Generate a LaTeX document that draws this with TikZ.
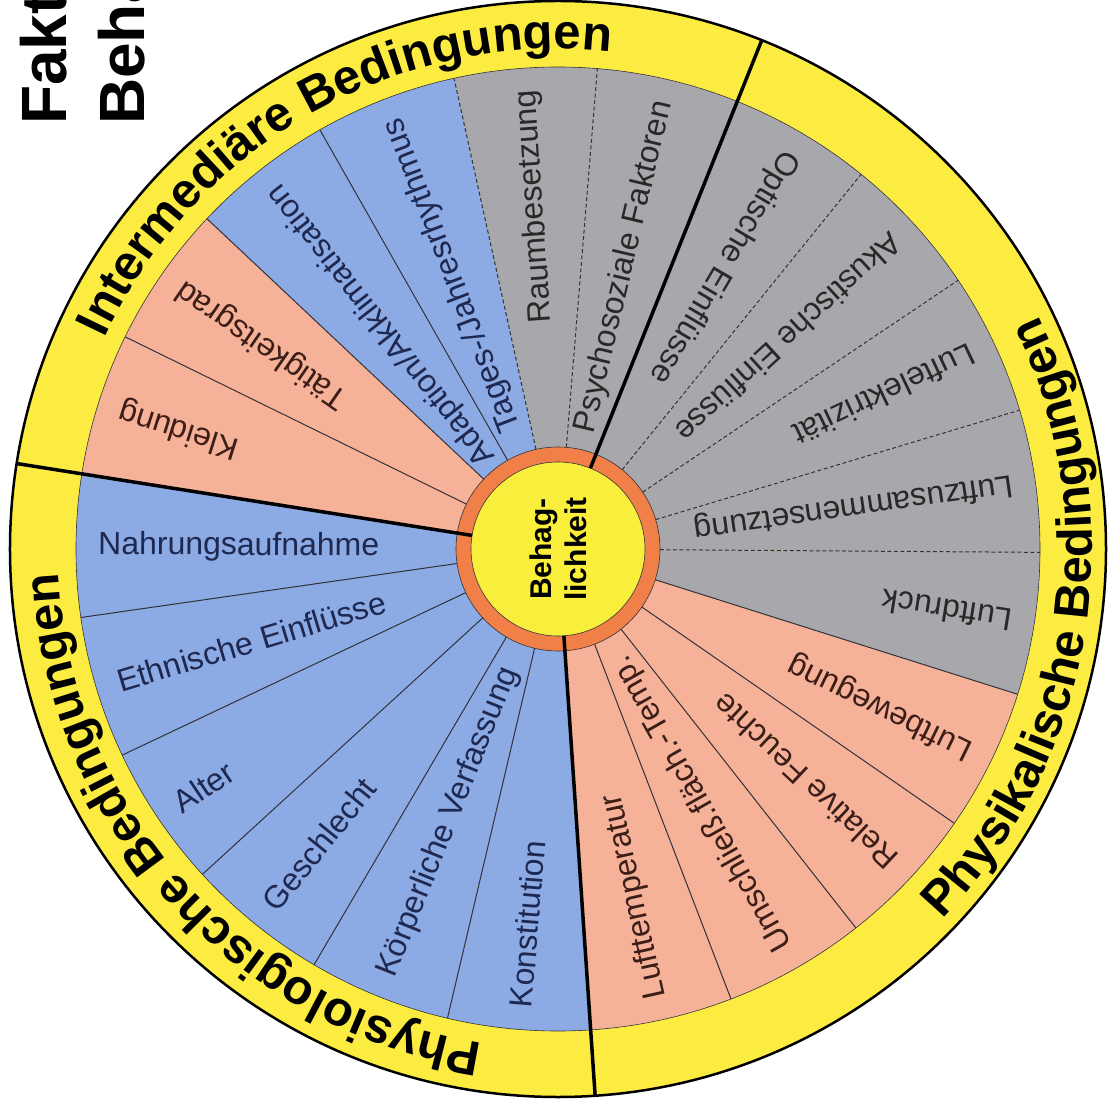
\documentclass[tikz,border=0pt]{standalone}
\usepackage{fontspec}
\setmainfont{Liberation Sans}
\usetikzlibrary{decorations.text}
\definecolor{ringyellow}{RGB}{252,236,66}
\definecolor{coreyellow}{RGB}{250,238,60}
\definecolor{orangering}{RGB}{240,128,72}
\definecolor{segblue}{RGB}{140,170,228}
\definecolor{segsalmon}{RGB}{246,178,152}
\definecolor{seggrey}{RGB}{168,168,172}
\definecolor{txtblue}{RGB}{30,40,80}
\definecolor{txtsalmon}{RGB}{60,30,25}
\definecolor{txtgrey}{RGB}{40,40,40}
\definecolor{linedark}{RGB}{50,50,60}
\newcommand\ringfont{\fontsize{49}{52}\selectfont\bfseries}

\begin{document}
\begin{tikzpicture}[x=1pt,y=1pt,
  seglabel/.style={font=\fontsize{32}{34}\selectfont, inner sep=0pt},
  titletext/.style={font=\fontsize{64}{70}\selectfont\bfseries, inner sep=0pt},
  thinline/.style={line width=1pt, draw=linedark},
  dashline/.style={line width=1pt, draw=linedark, dash pattern=on 4pt off 2.5pt},
  mainline/.style={line width=3.5pt, draw=black},
  ringlabel/.style={decorate, decoration={text along path, text align=center, text={|\ringfont|#1}}}
]

% Background
\fill[white] (-558,-564) rectangle (552,549);
\useasboundingbox (-558,-564) rectangle (552,549);

% Title
\node[titletext, rotate=90, anchor=base west] (titleA) at (-491,424) {Fakt};
\node[titletext, rotate=90, anchor=base west] (titleB) at (-413,424) {Behä};

% Outer ring
\fill[ringyellow] (0,0) circle (548);

% Sectors
\def\step{17.142857}
\def\off{-0.4}
\foreach \k/\kind in {0/grey,1/grey,2/grey,3/grey,4/grey,5/grey,6/blue,7/blue,8/salmon,9/salmon,
10/blue,11/blue,12/blue,13/blue,14/blue,15/blue,16/salmon,17/salmon,18/salmon,19/salmon,20/grey}{
\pgfmathsetmacro\a{\k*\step+\off}
\fill[seg\kind] (0,0) -- (\a:482) arc[start angle=\a, end angle=\a+\step, radius=482] -- cycle;
}

\draw[line width=2.5pt] (0,0) circle (548);
\draw[linedark, line width=0.6pt] (0,0) circle (482);

% Dividers
\foreach \k/\sty in {0/dashline,1/dashline,2/dashline,3/dashline,5/dashline,6/dashline,
7/thinline,8/thinline,9/thinline,11/thinline,12/thinline,13/thinline,14/thinline,15/thinline,
17/thinline,18/thinline,19/thinline,20/thinline}{
\pgfmathsetmacro\a{\k*\step+\off}
\draw[\sty] (\a:102) -- (\a:482);
}

% Centre
\fill[orangering, draw=linedark, line width=0.6pt] (0,0) circle (102);
\node[circle, minimum size=174pt, inner sep=0pt, fill=coreyellow, draw=linedark, line width=0.6pt,
  rotate=90, align=center, font=\fontsize{30}{35}\selectfont\bfseries] (core) at (0,0) {Behag-\\lichkeit};

% Main dividers
\foreach \k in {4,10,16}{
\pgfmathsetmacro\a{\k*\step+\off}
\draw[mainline] (\a:87) -- (\a:548);
}

% Labels, read outward
\foreach \k/\kind/\txt in {4/grey/Psychosoziale Faktoren, 5/grey/Raumbesetzung,
6/blue/{Tages-/Jahresrhythmus}, 7/blue/{Adaption/Akklimatisation},
8/salmon/Tätigkeitsgrad, 9/salmon/Kleidung}{
\pgfmathsetmacro\m{(\k+0.5)*\step+\off}
\node[seglabel, text=txt\kind, rotate=\m, anchor=east] (lab\k) at (\m:460) {\txt};
}

% Labels, read inward
\foreach \k/\kind/\txt in {0/grey/Luftzusammensetzung, 1/grey/Luftelektrizität,
2/grey/Akustische Einflüsse, 3/grey/Optische Einflüsse,
10/blue/Nahrungsaufnahme, 11/blue/Ethnische Einflüsse, 12/blue/Alter, 13/blue/Geschlecht,
14/blue/Körperliche Verfassung, 15/blue/Konstitution,
16/salmon/Lufttemperatur, 17/salmon/Umschließ.fläch.-Temp., 18/salmon/Relative Feuchte,
19/salmon/Luftbewegung, 20/grey/Luftdruck}{
\pgfmathsetmacro\m{(\k+0.5)*\step+\off}
\node[seglabel, text=txt\kind, rotate=\m+180, anchor=west] (lab\k) at (\m:460) {\txt};
}

% Ring labels
\path[ringlabel=Intermediäre Bedingungen] (169.5:500) arc[start angle=169.5, end angle=69.5, radius=500];
\path[ringlabel=Physiologische Bedingungen] (267:500) arc[start angle=267, end angle=177, radius=500];
\path[ringlabel=Physikalische Bedingungen] (-55:534) arc[start angle=-55, end angle=37, radius=534];

\end{tikzpicture}
\end{document}
